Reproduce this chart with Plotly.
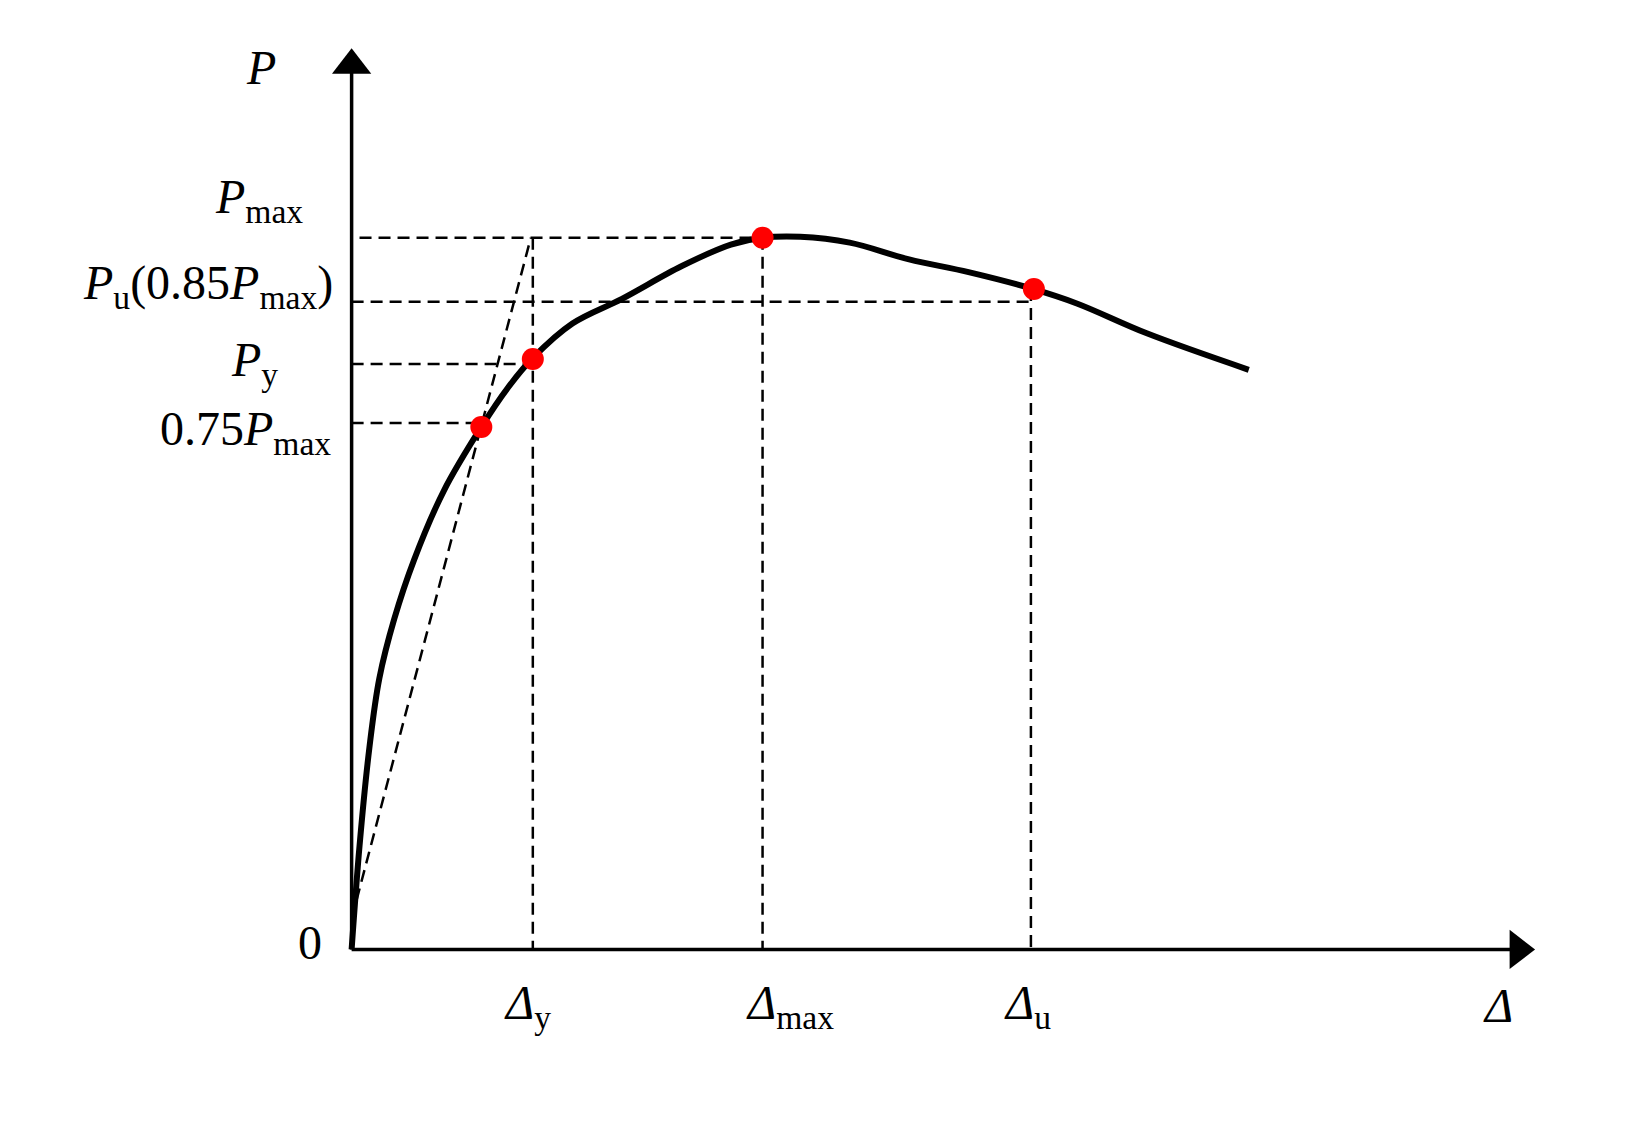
import plotly.graph_objects as go

# pixel-space origin of the sketch (Δ = 0, P = 0)
X0, Y0 = 347, 955

# curve, in units measured from the origin (right / up)
curve_d = [0, 8, 18, 28, 43, 63, 93, 131, 158, 183, 223, 273, 333, 383, 415, 453, 503, 563, 623, 688, 733, 803, 906]
curve_p = [0, 105, 205, 275, 335, 395, 465, 530, 570, 600, 635, 660, 693, 715, 722, 723, 717, 700, 687, 670, 655, 625, 588]

# characteristic points: 0.75Pmax, yield, max, ultimate
pts_d = [131, 183, 415, 689]
pts_p = [530, 599, 722, 670]

# reference levels
p_max, p_u, p_y, p_75 = 722, 657, 594, 534
d_y, d_max, d_u = 183, 415, 686

def px(d):
    return [X0 + v for v in d]

def py(p):
    return [Y0 - v for v in p]

fig = go.Figure()
dash = dict(color="black", width=2.5, dash="12px,7px")

# dashed guides
for xs, ys in [
    ([8, d_max], [p_max, p_max]),
    ([0, d_u], [p_u, p_u]),
    ([0, d_y], [p_y, p_y]),
    ([0, 131], [p_75, p_75]),
    ([d_y, d_y], [p_max, 0]),
    ([d_max, d_max], [p_max, 0]),
    ([d_u, d_u], [670, 0]),
    ([5, 181], [50, p_max]),
]:
    fig.add_trace(go.Scatter(x=px(xs), y=py(ys), mode="lines", line=dash))

# axes
fig.add_trace(go.Scatter(x=[X0, X0], y=[Y0, 60], mode="lines", line=dict(color="black", width=3.5)))
fig.add_trace(go.Scatter(x=[X0, 1525], y=[Y0, Y0], mode="lines", line=dict(color="black", width=3.5)))
fig.add_trace(go.Scatter(x=[X0], y=[58], mode="markers",
                         marker=dict(symbol="triangle-up", size=34, color="black")))
fig.add_trace(go.Scatter(x=[1525], y=[Y0], mode="markers",
                         marker=dict(symbol="triangle-right", size=34, color="black")))

# curve
fig.add_trace(go.Scatter(x=px(curve_d), y=py(curve_p), mode="lines",
                         line=dict(color="black", width=6, shape="spline")))
fig.add_trace(go.Scatter(x=px(pts_d), y=py(pts_p), mode="markers",
                         marker=dict(color="#ff0000", size=22)))

font = dict(family="Liberation Serif", size=48, color="black")
labels = [
    (255, 60, "<i>P</i>", "center"),
    (300, 195, "<i>P</i><sub>max</sub>", "right"),
    (330, 282, "<i>P</i><sub>u</sub>(0.85<i>P</i><sub>max</sub>)", "right"),
    (275, 360, "<i>P</i><sub>y</sub>", "right"),
    (328, 430, "0.75<i>P</i><sub>max</sub>", "right"),
    (305, 948, "0", "center"),
    (525, 1012, "<i>Δ</i><sub>y</sub>", "center"),
    (790, 1012, "<i>Δ</i><sub>max</sub>", "center"),
    (1030, 1012, "<i>Δ</i><sub>u</sub>", "center"),
    (1505, 1012, "<i>Δ</i>", "center"),
]
for x, y, t, a in labels:
    fig.add_annotation(x=x, y=y, text=t, showarrow=False, font=font, xanchor=a, yanchor="middle")

fig.update_layout(
    autosize=True, showlegend=False,
    paper_bgcolor="white", plot_bgcolor="white",
    margin=dict(l=0, r=0, t=0, b=0),
    xaxis=dict(range=[0, 1638], visible=False),
    yaxis=dict(range=[1128, 0], visible=False),
)
fig.write_html("out.html", default_width="100%", default_height="100%")
